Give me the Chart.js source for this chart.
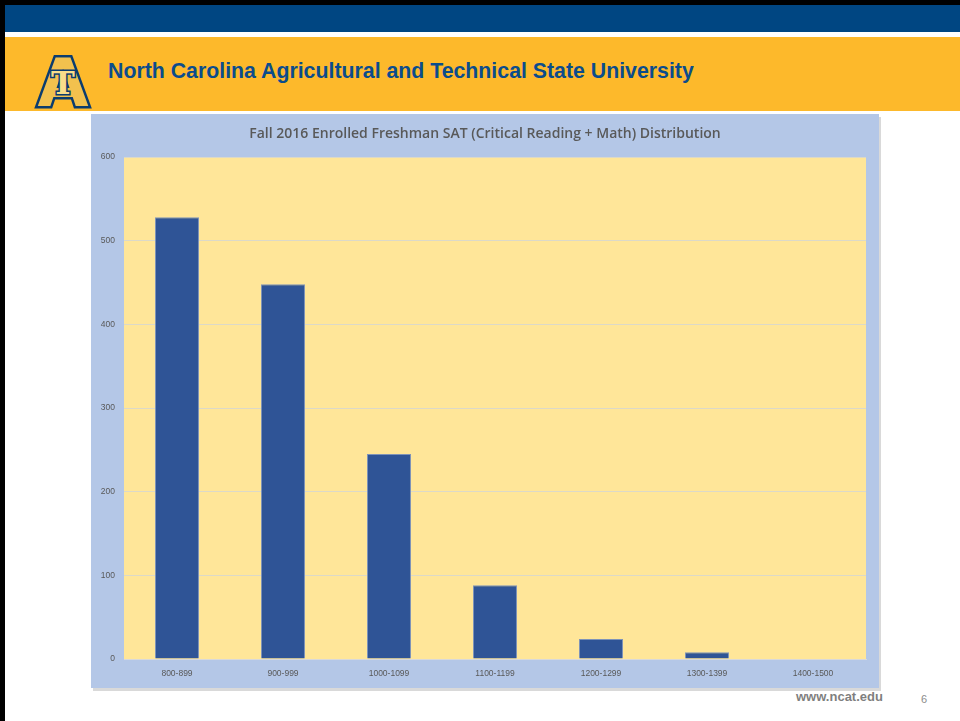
<!DOCTYPE html>
<html>
<head>
<meta charset="utf-8">
<script src="https://cdn.jsdelivr.net/npm/chart.js@4/dist/chart.umd.min.js"></script>
<style>
    body { margin: 0; width: 960px; height: 721px; background: #fff; position: relative; overflow: hidden; font-family: "Liberation Sans", Arial, sans-serif; }
    .edgeTop { position: absolute; left: 0; top: 0; width: 960px; height: 5px; background: #000; }
    .edgeLeft { position: absolute; left: 0; top: 0; width: 5px; height: 721px; background: #000; }
    .blueBar { position: absolute; left: 5px; top: 5px; width: 955px; height: 27px; background: #004682; }
    .goldBar { position: absolute; left: 5px; top: 37px; width: 955px; height: 74px; background: #FDB92B; }
    .uniName { position: absolute; left: 108px; top: 59px; font-size: 21.3px; font-weight: bold; color: #0B4C8C; white-space: nowrap; transform: scaleY(1.05); }
    .logo { position: absolute; left: 34px; top: 44px; }
    .chartBox { position: absolute; left: 91px; top: 114px; width: 788px; height: 574px; background: #B4C7E7; box-shadow: 2px 3px 0 #d9d9d9; }
    .footer { position: absolute; left: 796px; top: 689px; font-size: 13px; font-weight: bold; color: #7f7f7f; }
    .pageNo { position: absolute; left: 921px; top: 693px; font-size: 11px; color: #8c8c8c; }
</style>
</head>
<body>
<div class="edgeTop"></div>
<div class="edgeLeft"></div>
<div class="blueBar"></div>
<div class="goldBar"></div>
<svg class="logo" width="58" height="68" viewBox="0 0 58 68">
    <text x="29" y="62" text-anchor="middle" font-family="DejaVu Sans" font-weight="bold" font-size="66" fill="#F2C14E" stroke="#0B3C6E" stroke-width="5" paint-order="stroke">A</text>
    <text x="29" y="50" text-anchor="middle" font-family="DejaVu Serif" font-weight="bold" font-size="32" fill="#F9DD8A" stroke="#0B3C6E" stroke-width="3" paint-order="stroke">T</text>
</svg>
<div class="uniName">North Carolina Agricultural and Technical State University</div>
<div class="chartBox"><canvas id="satChart"></canvas></div>
<div class="footer">www.ncat.edu</div>
<div class="pageNo">6</div>

<script>
const categories = ['800-899', '900-999', '1000-1099', '1100-1199', '1200-1299', '1300-1399', '1400-1500'];
const students = [528, 448, 245, 88, 24, 8, 0];
const yTicks = [0, 100, 200, 300, 400, 500, 600];

// yellow plot area behind the bars
const plotFill = {
    id: 'plotFill',
    beforeDraw(chart) {
        const a = chart.chartArea;
        const c = chart.ctx;
        c.save();
        c.fillStyle = '#FFE699';
        c.fillRect(a.left, a.top, a.right - a.left, a.bottom - a.top);
        c.restore();
    }
};

const ctx = document.getElementById('satChart').getContext('2d');
new Chart(ctx, {
    type: 'bar',
    data: {
        labels: categories,
        datasets: [{
            label: 'Students',
            data: students,
            backgroundColor: '#2F5496',
            borderColor: '#7E93B8',
            borderWidth: 1,
            categoryPercentage: 1,
            barPercentage: 0.415
        }]
    },
    options: {
        responsive: true,
        maintainAspectRatio: false,
        animation: false,
        layout: { padding: 0 },
        plugins: {
            legend: { display: false },
            tooltip: { enabled: false },
            title: {
                display: true,
                text: 'Fall 2016 Enrolled Freshman SAT (Critical Reading + Math) Distribution',
                color: '#595959',
                font: { family: 'Open Sans', size: 14, weight: '600' },
                padding: { top: 11.6, bottom: 14.6 }
            }
        },
        scales: {
            x: {
                afterFit(s) { s.height = 29; },
                grid: { display: false },
                border: { color: '#d9d9d9' },
                ticks: { color: '#595959', font: { family: 'Liberation Sans', size: 8.5 }, padding: 2, maxRotation: 0 }
            },
            y: {
                min: 0,
                max: 600,
                afterFit(s) { s.width = 33; },
                afterBuildTicks(s) { s.ticks = yTicks.map(v => ({ value: v })); },
                grid: { color: '#DCD9C8', drawTicks: false },
                border: { display: false },
                ticks: { color: '#595959', font: { family: 'Liberation Sans', size: 8.5 }, padding: 9 }
            },
            // empty right-hand margin so the plot sits where the original does
            yRight: {
                position: 'right',
                min: 0,
                max: 600,
                afterFit(s) { s.width = 13; },
                grid: { display: false },
                border: { display: false },
                ticks: { display: false }
            }
        }
    },
    plugins: [plotFill]
});
</script>
</body>
</html>
